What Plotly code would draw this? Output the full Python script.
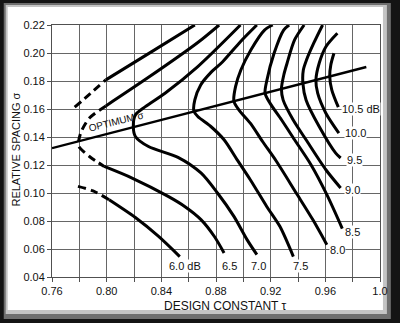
import plotly.graph_objects as go

# ---------------- data ----------------
# 6.0 dB contour (open on the left, dashed near tau = 0.78)
c60_up_dash_x = [0.7766, 0.788, 0.7994]
c60_up_dash_y = [0.1613, 0.171, 0.1808]
c60_up_x = [0.7994, 0.833, 0.8645]
c60_up_y = [0.1808, 0.201, 0.22]
c60_lo_dash_x = [0.779, 0.790, 0.8018]
c60_lo_dash_y = [0.1047, 0.1015, 0.0952]
c60_lo_x = [0.8018, 0.821, 0.838, 0.8535]
c60_lo_y = [0.0952, 0.0825, 0.069, 0.0546]

# 6.5 dB contour
c65_up_x = [0.8823, 0.8667, 0.8306, 0.7994]
c65_up_y = [0.22, 0.2075, 0.1826, 0.1622]
c65_dash_x = [0.7994, 0.7874, 0.7814, 0.7795, 0.7797, 0.7874, 0.7982]
c65_dash_y = [0.1622, 0.1535, 0.1439, 0.1369, 0.1332, 0.1261, 0.119]
c65_lo_x = [0.7982, 0.8186, 0.845, 0.8571, 0.869, 0.8787, 0.8859]
c65_lo_y = [0.119, 0.1107, 0.0976, 0.0904, 0.081, 0.0691, 0.0572]

# closed-vertex contours 7.0 ... 10.5 dB (top branch -> vertex -> bottom branch)
c70_x = [0.8979, 0.8667, 0.8427, 0.8283, 0.821, 0.8195, 0.821, 0.8306, 0.8522, 0.869, 0.8811, 0.8931, 0.9027, 0.9099]
c70_y = [0.22, 0.1903, 0.1713, 0.1617, 0.1558, 0.1473, 0.1404, 0.1332, 0.1255, 0.1143, 0.10, 0.0833, 0.0667, 0.056]
c75_x = [0.9099, 0.8977, 0.8847, 0.876, 0.8688, 0.8645, 0.8638, 0.8667, 0.8762, 0.8859, 0.8955, 0.9051, 0.9171, 0.9267, 0.9366]
c75_y = [0.22, 0.2079, 0.1936, 0.1858, 0.1772, 0.1665, 0.1587, 0.1546, 0.1475, 0.138, 0.1237, 0.1095, 0.0904, 0.0762, 0.0546]
c80_x = [0.9215, 0.9155, 0.9055, 0.8982, 0.8943, 0.8931, 0.8967, 0.9051, 0.9142, 0.9243, 0.9387, 0.9508, 0.9611]
c80_y = [0.22, 0.2164, 0.2022, 0.1879, 0.176, 0.1655, 0.1594, 0.1499, 0.1366, 0.1225, 0.10, 0.081, 0.0631]
c85_x = [0.9335, 0.9295, 0.9225, 0.9173, 0.9159, 0.9195, 0.9279, 0.9375, 0.9495, 0.9611, 0.9724]
c85_y = [0.22, 0.2164, 0.1998, 0.1808, 0.1713, 0.1642, 0.1523, 0.138, 0.1202, 0.0988, 0.0746]
c90_x = [0.9445, 0.9375, 0.932, 0.9296, 0.9279, 0.9291, 0.9364, 0.9459, 0.9604, 0.9712]
c90_y = [0.22, 0.2093, 0.1927, 0.1843, 0.1744, 0.1665, 0.1523, 0.138, 0.1166, 0.1036]
c95_x = [0.958, 0.9515, 0.9462, 0.9439, 0.9436, 0.9459, 0.9555, 0.9676, 0.9712]
c95_y = [0.22, 0.207, 0.195, 0.1879, 0.1782, 0.1665, 0.1475, 0.1285, 0.125]
c100_x = [0.9688, 0.9604, 0.9555, 0.9531, 0.9544, 0.9604, 0.9699]
c100_y = [0.2141, 0.2045, 0.1927, 0.1806, 0.1713, 0.157, 0.1428]
c105_x = [0.9663, 0.964, 0.9632, 0.9647, 0.9695]
c105_y = [0.1998, 0.1915, 0.1834, 0.1737, 0.1613]

# optimum sigma line
opt_x = [0.76, 0.99]
opt_y = [0.132, 0.190]

# contour labels
label_text = ["6.0 dB", "6.5", "7.0", "7.5", "8.0", "8.5", "9.0", "9.5", "10.0", "10.5 dB"]
label_x = [0.857, 0.890, 0.9113, 0.9416, 0.9625, 0.9733, 0.9733, 0.9748, 0.9733, 0.9712]
label_y = [0.048, 0.048, 0.048, 0.048, 0.0596, 0.0719, 0.1018, 0.1237, 0.1428, 0.160]
label_anchor = ["center", "center", "center", "center", "left", "left", "left", "left", "left", "left"]

x_ticks = [0.76, 0.78, 0.80, 0.82, 0.84, 0.86, 0.88, 0.90, 0.92, 0.94, 0.96, 0.98, 1.0]
x_ticktext = ["0.76", "", "0.80", "", "0.84", "", "0.88", "", "0.92", "", "0.96", "", "1.0"]
y_ticks = [0.04, 0.06, 0.08, 0.10, 0.12, 0.14, 0.16, 0.18, 0.20, 0.22]
y_ticktext = ["0.04", "0.06", "0.08", "0.10", "0.12", "0.14", "0.16", "0.18", "0.20", "0.22"]

# ---------------- figure ----------------
W, H = 400, 323
ML, MR, MT, MB = 52, 15, 25, 46
PW, PH = W - ML - MR, H - MT - MB

def fx(px):
    return (px - ML) / PW

def fy(py):
    return (H - MB - py) / PH

FONT = "Liberation Sans, Arial, sans-serif"
LW = 3
DASH = "8px,5px"

fig = go.Figure()

def add(xs, ys, dash=None, width=LW):
    fig.add_trace(go.Scatter(
        x=xs, y=ys, mode="lines",
        line=dict(color="black", width=width, shape="spline", smoothing=0.8,
                  dash=dash if dash else "solid"),
        hoverinfo="skip", showlegend=False, cliponaxis=True))

add(c60_up_dash_x, c60_up_dash_y, DASH)
add(c60_up_x, c60_up_y)
add(c60_lo_dash_x, c60_lo_dash_y, DASH)
add(c60_lo_x, c60_lo_y)
add(c65_up_x, c65_up_y)
add(c65_dash_x, c65_dash_y, DASH)
add(c65_lo_x, c65_lo_y)
for xs, ys in [(c70_x, c70_y), (c75_x, c75_y), (c80_x, c80_y), (c85_x, c85_y),
               (c90_x, c90_y), (c95_x, c95_y), (c100_x, c100_y), (c105_x, c105_y)]:
    add(xs, ys)
fig.add_trace(go.Scatter(x=opt_x, y=opt_y, mode="lines",
                         line=dict(color="black", width=2.4),
                         hoverinfo="skip", showlegend=False))

annotations = []
for t, x, y, a in zip(label_text, label_x, label_y, label_anchor):
    annotations.append(dict(x=x, y=y, xref="x", yref="y", text=t, showarrow=False,
                            xanchor=a, yanchor="middle", bgcolor="white", borderpad=0,
                            font=dict(family=FONT, size=11, color="#111")))
annotations.append(dict(x=0.8070, y=0.1509, xref="x", yref="y", text="OPTIMUM σ",
                        showarrow=False, textangle=-14, xanchor="center", yanchor="middle",
                        font=dict(family=FONT, size=10, color="#111")))
annotations.append(dict(x=fx(228), y=fy(306), xref="paper", yref="paper",
                        text="DESIGN CONSTANT τ", showarrow=False,
                        xanchor="center", yanchor="middle",
                        font=dict(family=FONT, size=12, color="#111")))
annotations.append(dict(x=fx(15), y=fy(150), xref="paper", yref="paper",
                        text="RELATIVE SPACING σ", showarrow=False, textangle=-90,
                        xanchor="center", yanchor="middle",
                        font=dict(family=FONT, size=11, color="#111")))

shapes = [
    dict(type="rect", xref="paper", yref="paper", x0=fx(3), x1=fx(396), y0=fy(3), y1=fy(319),
         fillcolor="#6f6f6f", line=dict(width=0), layer="below"),
    dict(type="rect", xref="paper", yref="paper", x0=fx(5), x1=fx(392), y0=fy(5), y1=fy(314),
         fillcolor="#c4c4c4", line=dict(width=0), layer="below"),
    dict(type="rect", xref="paper", yref="paper", x0=fx(7), x1=fx(388), y0=fy(7), y1=fy(310),
         fillcolor="white", line=dict(width=0), layer="below"),
]

axis_common = dict(showgrid=True, gridcolor="#666666", gridwidth=1,
                   showline=True, linecolor="#505050", linewidth=1, mirror=True,
                   ticks="outside", ticklen=4, tickcolor="#505050", tickwidth=1,
                   zeroline=False,
                   tickfont=dict(family=FONT, size=11, color="#111"))

fig.update_layout(
    width=W, height=H,
    margin=dict(l=ML, r=MR, t=MT, b=MB, pad=0),
    paper_bgcolor="#141414", plot_bgcolor="white",
    showlegend=False,
    xaxis=dict(range=[0.76, 1.0], tickmode="array", tickvals=x_ticks, ticktext=x_ticktext,
               **axis_common),
    yaxis=dict(range=[0.04, 0.22], tickmode="array", tickvals=y_ticks, ticktext=y_ticktext,
               **axis_common),
    annotations=annotations,
    shapes=shapes,
)

fig.write_html("out.html", config={"displayModeBar": False})
